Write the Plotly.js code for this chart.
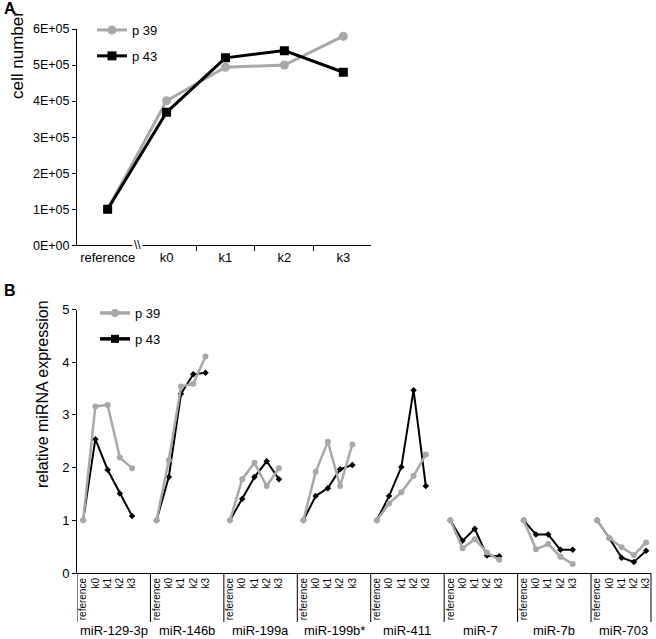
<!DOCTYPE html>
<html><head><meta charset="utf-8">
<script src="https://cdn.plot.ly/plotly-3.0.1.min.js"></script>
<style>html,body{margin:0;padding:0;background:#fff}#chart{width:656px;height:639px}</style>
</head><body><div id="chart"></div>
<script>
// ---- Panel A data ----
const stagesA = ['reference', 'k0', 'k1', 'k2', 'k3'];
const cellsP39 = [100000, 401000, 494000, 500000, 580000];
const cellsP43 = [100000, 369000, 520000, 540000, 480000];
const yTickValsA = [0, 100000, 200000, 300000, 400000, 500000, 600000];
const yTickTextA = ['0E+00', '1E+05', '2E+05', '3E+05', '4E+05', '5E+05', '6E+05'];

// ---- Panel B data ----
const mirnas = ['miR-129-3p', 'miR-146b', 'miR-199a', 'miR-199b*', 'miR-411', 'miR-7', 'miR-7b', 'miR-703'];
const stagesB = ['reference', 'k0', 'k1', 'k2', 'k3'];
const exprP39 = [
  [1, 3.16, 3.19, 2.19, 1.99],
  [1, 2.14, 3.54, 3.59, 4.11],
  [1, 1.78, 2.09, 1.65, 1.99],
  [1, 1.92, 2.49, 1.65, 2.44],
  [1, 1.32, 1.53, 1.84, 2.25],
  [1, 0.47, 0.64, 0.39, 0.25],
  [1, 0.45, 0.55, 0.31, 0.17],
  [1, 0.66, 0.49, 0.34, 0.58]
];
const exprP43 = [
  [1, 2.54, 1.96, 1.51, 1.08],
  [1, 1.82, 3.40, 3.77, 3.80],
  [1, 1.41, 1.82, 2.12, 1.78],
  [1, 1.46, 1.61, 1.97, 2.05],
  [1, 1.46, 2.01, 3.47, 1.65],
  [1, 0.61, 0.84, 0.33, 0.32],
  [1, 0.73, 0.73, 0.44, 0.44],
  [1, 0.66, 0.29, 0.21, 0.42]
];

const GRAY = '#a8a8a8';
const BLACK = '#000000';
const FONT = 'Liberation Sans, Arial, sans-serif';
const W = 656, H = 639;
const px = v => v / W;
const py = v => 1 - v / H;

// positions for panel B: each group gets 6 slots (5 stages + gap)
const SLOT = stagesB.length + 1;
const xB = [], yB39 = [], yB43 = [], tickValsB = [], tickTextB = [];
mirnas.forEach((m, g) => {
  stagesB.forEach((s, i) => {
    xB.push(g * SLOT + i);
    yB39.push(exprP39[g][i]);
    yB43.push(exprP43[g][i]);
    tickValsB.push(g * SLOT + i);
    tickTextB.push(s);
  });
  xB.push(null); yB39.push(null); yB43.push(null);
});

const idxA = stagesA.map((s, i) => i);

const traces = [
  {x: idxA, y: cellsP39, type: 'scatter', mode: 'lines+markers', name: 'p 39',
   xaxis: 'x', yaxis: 'y', legend: 'legend', legendgroup: 'a39',
   line: {color: GRAY, width: 3}, marker: {symbol: 'circle', size: 9, color: GRAY}},
  {x: idxA, y: cellsP43, type: 'scatter', mode: 'lines+markers', name: 'p 43',
   xaxis: 'x', yaxis: 'y', legend: 'legend', legendgroup: 'a43',
   line: {color: BLACK, width: 3}, marker: {symbol: 'square', size: 9, color: BLACK}},
  {x: xB, y: yB43, type: 'scatter', mode: 'lines+markers', name: 'p 43', showlegend: false,
   xaxis: 'x2', yaxis: 'y2', connectgaps: false,
   line: {color: BLACK, width: 2}, marker: {symbol: 'diamond', size: 5, color: BLACK}},
  {x: xB, y: yB39, type: 'scatter', mode: 'lines+markers', name: 'p 39', showlegend: false,
   xaxis: 'x2', yaxis: 'y2', connectgaps: false,
   line: {color: GRAY, width: 2.5}, marker: {symbol: 'circle', size: 6, color: GRAY}},
  // legend entries for panel B
  {x: [null], y: [null], type: 'scatter', mode: 'lines+markers', name: 'p 39',
   xaxis: 'x2', yaxis: 'y2', legend: 'legend2', legendgroup: 'b39',
   line: {color: GRAY, width: 3.5}, marker: {symbol: 'circle', size: 8, color: GRAY}},
  {x: [null], y: [null], type: 'scatter', mode: 'lines+markers', name: 'p 43',
   xaxis: 'x2', yaxis: 'y2', legend: 'legend2', legendgroup: 'b43',
   line: {color: BLACK, width: 3.5}, marker: {symbol: 'square', size: 8, color: BLACK}}
];

const shapes = [];
mirnas.forEach((m, g) => {
  shapes.push({type: 'line', xref: 'x2', yref: 'paper', x0: g * SLOT - 0.5, x1: g * SLOT - 0.5,
    y0: py(573), y1: py(622), line: {color: BLACK, width: 1}});
});
shapes.push({type: 'line', xref: 'x2 domain', yref: 'paper', x0: 1, x1: 1,
  y0: py(573), y1: py(622), line: {color: BLACK, width: 1}});

const annotations = mirnas.map((m, g) => ({
  text: m, xref: 'x2', yref: 'paper', x: g * SLOT + 2.5 - (g === mirnas.length - 1 ? 0.35 : 0), y: py(630),
  xanchor: 'center', yanchor: 'middle', showarrow: false,
  font: {family: FONT, size: 13, color: BLACK}
}));
annotations.push({text: '<b>A</b>', xref: 'paper', yref: 'paper', x: px(2), y: py(9),
  xanchor: 'left', yanchor: 'middle', showarrow: false, font: {family: FONT, size: 16, color: BLACK}});
annotations.push({text: '<b>B</b>', xref: 'paper', yref: 'paper', x: px(2), y: py(290),
  xanchor: 'left', yanchor: 'middle', showarrow: false, font: {family: FONT, size: 16, color: BLACK}});
annotations.push({text: '\\\\', xref: 'x', yref: 'y', x: 0.5, y: 0,
  xanchor: 'center', yanchor: 'middle', showarrow: false, bgcolor: '#ffffff',
  font: {family: FONT, size: 12, color: BLACK}});
// axis titles (placed toward the top of each axis, as in the original)
annotations.push({text: 'cell number', xref: 'paper', yref: 'paper', x: px(17), y: py(55),
  xanchor: 'center', yanchor: 'middle', textangle: -90, showarrow: false,
  font: {family: FONT, size: 17, color: BLACK}});
annotations.push({text: 'relative miRNA expression', xref: 'paper', yref: 'paper', x: px(42), y: py(394),
  xanchor: 'center', yanchor: 'middle', textangle: -90, showarrow: false,
  font: {family: FONT, size: 16, color: BLACK}});

const axisCommon = {showgrid: false, zeroline: false, showline: true, linecolor: BLACK, linewidth: 1,
  tickcolor: BLACK, fixedrange: true};

const layout = {
  width: W, height: H,
  margin: {l: 0, r: 0, t: 0, b: 0},
  paper_bgcolor: '#ffffff', plot_bgcolor: '#ffffff',
  font: {family: FONT, size: 13, color: BLACK},
  xaxis: Object.assign({}, axisCommon, {
    domain: [px(77), px(371)], anchor: 'y', range: [-0.52, 4.47],
    tickmode: 'array', tickvals: idxA, ticktext: stagesA, ticks: '',
    tickfont: {family: FONT, size: 13},
    minor: {tickmode: 'array', tickvals: [1.5, 2.5, 3.5], ticks: 'outside', ticklen: 5, tickcolor: BLACK}
  }),
  yaxis: Object.assign({}, axisCommon, {
    domain: [py(245.3), py(29)], anchor: 'x', range: [0, 600000],
    tickmode: 'array', tickvals: yTickValsA, ticktext: yTickTextA, ticks: 'outside', ticklen: 4,
    tickfont: {family: FONT, size: 12.5}
  }),
  xaxis2: Object.assign({}, axisCommon, {
    domain: [px(77), px(651)], anchor: 'y2', range: [-0.5, 46.4],
    tickmode: 'array', tickvals: tickValsB, ticktext: tickTextB, ticks: '', tickangle: -90,
    tickfont: {family: FONT, size: 10}
  }),
  yaxis2: Object.assign({}, axisCommon, {
    domain: [py(573), py(309.5)], anchor: 'x2', range: [0, 5],
    tickmode: 'linear', tick0: 0, dtick: 1, ticks: 'outside', ticklen: 4,
    tickfont: {family: FONT, size: 13}
  }),
  legend: {x: px(92), y: py(15), xanchor: 'left', yanchor: 'top', bgcolor: 'rgba(0,0,0,0)',
    font: {family: FONT, size: 13}, tracegroupgap: 6, itemclick: false, itemdoubleclick: false},
  legend2: {x: px(95), y: py(298), xanchor: 'left', yanchor: 'top', bgcolor: 'rgba(0,0,0,0)',
    font: {family: FONT, size: 13}, tracegroupgap: 6, itemclick: false, itemdoubleclick: false},
  shapes: shapes,
  annotations: annotations,
  showlegend: true
};

Plotly.newPlot('chart', traces, layout, {displayModeBar: false, staticPlot: true});
</script>
</body></html>
